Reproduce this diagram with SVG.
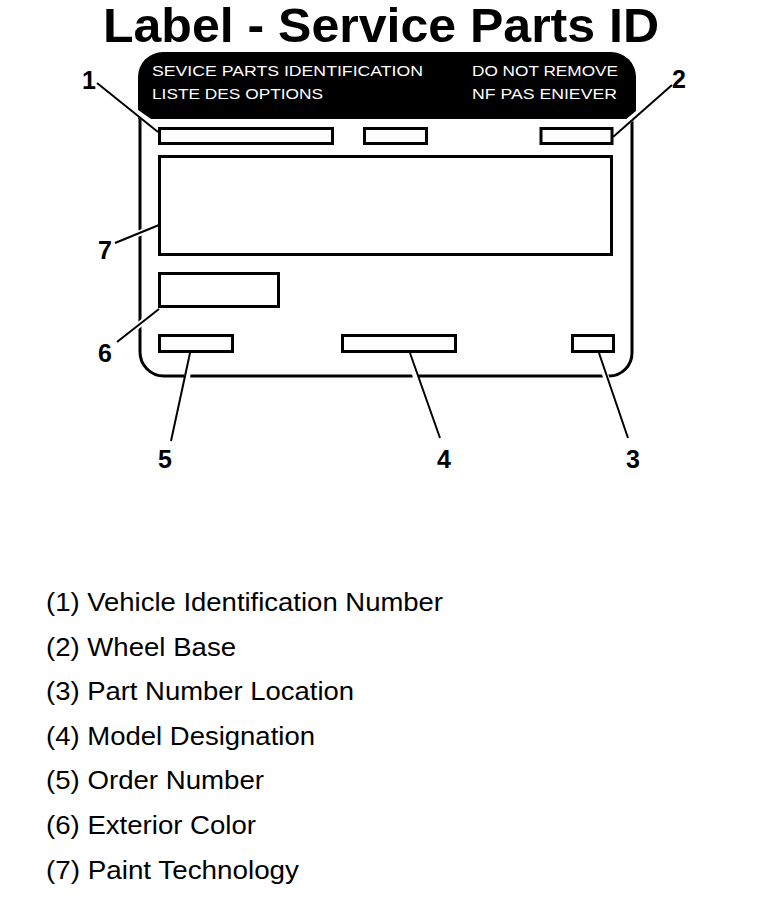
<svg xmlns="http://www.w3.org/2000/svg" width="768" height="914" viewBox="0 0 768 914">
<style>
.box{fill:none;stroke:#000;stroke-width:3}
.lead{stroke:#000;stroke-width:2;fill:none}
.halo{stroke:#fff;stroke-width:6;fill:none}
.num{font-family:"Liberation Sans",Arial,sans-serif;font-weight:bold;font-size:25px;fill:#000;text-anchor:middle}
.band{font-family:"Liberation Sans",Arial,sans-serif;font-size:15px;fill:#fff}
.leg{font-family:"Liberation Sans",Arial,sans-serif;font-size:25px;fill:#000}
</style>
<rect width="768" height="914" fill="#fff"/>
<text x="381" y="42" font-family="Liberation Sans, Arial, sans-serif" font-weight="bold" font-size="48" text-anchor="middle" textLength="556" lengthAdjust="spacingAndGlyphs">Label - Service Parts ID</text>
<g id="label">
<path class="box" d="M140,118 V352 A24,24 0 0 0 164,376 H609 A23,23 0 0 0 632,353 V118"/>
<path d="M138,119 V77 A25,25 0 0 1 163,52 H611 A25,25 0 0 1 636,77 V119 Z" fill="#000"/>
<text class="band" x="152" y="76" textLength="271" lengthAdjust="spacingAndGlyphs">SEVICE PARTS IDENTIFICATION</text>
<text class="band" x="152" y="99" textLength="171" lengthAdjust="spacingAndGlyphs">LISTE DES OPTIONS</text>
<text class="band" x="472" y="76" textLength="146" lengthAdjust="spacingAndGlyphs">DO NOT REMOVE</text>
<text class="band" x="472" y="99" textLength="145" lengthAdjust="spacingAndGlyphs">NF PAS ENIEVER</text>
</g>
<g id="field1"><rect class="box" x="159.5" y="128.5" width="173" height="15"/></g>
<g id="field-mid"><rect class="box" x="364.5" y="128.5" width="62" height="15"/></g>
<g id="field2"><rect class="box" x="541" y="128.5" width="71" height="15"/></g>
<g id="field7"><rect class="box" x="159.5" y="156.5" width="452" height="98"/></g>
<g id="field6"><rect class="box" x="159.5" y="273.5" width="119" height="33"/></g>
<g id="field5"><rect class="box" x="159.5" y="335.5" width="73" height="16"/></g>
<g id="field4"><rect class="box" x="342.5" y="335.5" width="113" height="16"/></g>
<g id="field3"><rect class="box" x="572.5" y="335.5" width="41" height="16"/></g>
<g id="connectors">
<path class="halo" d="M110,94 L150,122 M654,100 L626,123 M122,240 L150,229 M124,337 L150,316 M189,360 L186,388 M412,362 L418,386 M601,362 L609,386"/>
<path class="lead" d="M97,83 L158,132 M672,85 L613,137 M115,243 L159,225 M117,342 L159,309 M190,353 L171,441 M410,353 L440,438 M599,353 L628,438"/>
</g>
<g id="numbers">
<text class="num" x="89" y="89">1</text>
<text class="num" x="679" y="88">2</text>
<text class="num" x="633" y="468">3</text>
<text class="num" x="444" y="468">4</text>
<text class="num" x="165" y="468">5</text>
<text class="num" x="105" y="362">6</text>
<text class="num" x="105" y="259">7</text>
</g>
<g id="legend">
<text class="leg" x="46" y="611" textLength="397" lengthAdjust="spacingAndGlyphs">(1) Vehicle Identification Number</text>
<text class="leg" x="46" y="656" textLength="190" lengthAdjust="spacingAndGlyphs">(2) Wheel Base</text>
<text class="leg" x="46" y="700" textLength="308" lengthAdjust="spacingAndGlyphs">(3) Part Number Location</text>
<text class="leg" x="46" y="745" textLength="269" lengthAdjust="spacingAndGlyphs">(4) Model Designation</text>
<text class="leg" x="46" y="789" textLength="218" lengthAdjust="spacingAndGlyphs">(5) Order Number</text>
<text class="leg" x="46" y="834" textLength="210" lengthAdjust="spacingAndGlyphs">(6) Exterior Color</text>
<text class="leg" x="46" y="879" textLength="253" lengthAdjust="spacingAndGlyphs">(7) Paint Technology</text>
</g>
</svg>
